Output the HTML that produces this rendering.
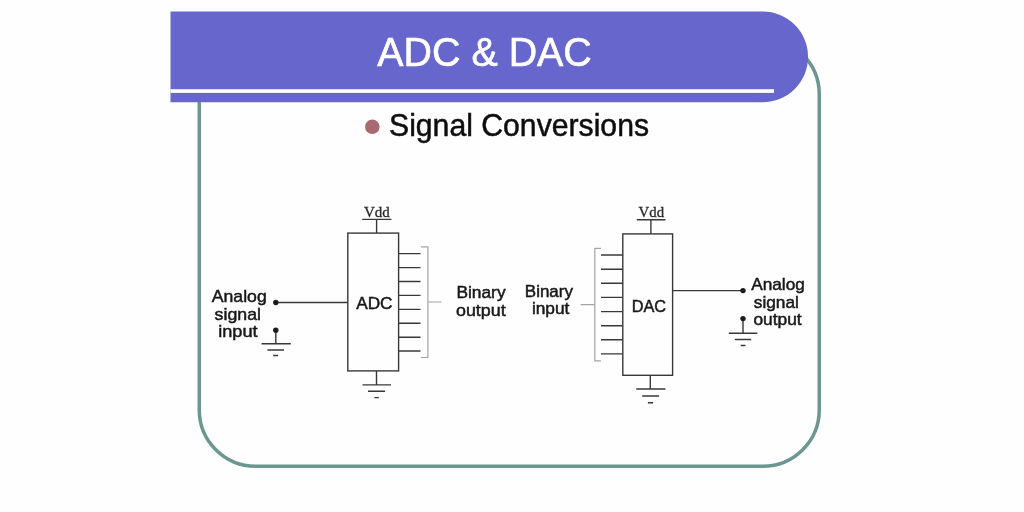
<!DOCTYPE html>
<html>
<head>
<meta charset="utf-8">
<title>ADC &amp; DAC</title>
<style>
html,body{margin:0;padding:0;background:#fefefe;}
body{width:1024px;height:512px;overflow:hidden;position:relative;font-family:"Liberation Sans",sans-serif;}
svg{position:absolute;left:0;top:0;display:block;}
.s{font-family:"Liberation Sans",sans-serif;fill:#161616;stroke:#161616;stroke-width:0.45;}
.v{font-family:"Liberation Serif",serif;fill:#2a2a2a;stroke:#2a2a2a;stroke-width:0.3;}
</style>
</head>
<body>
<svg width="1024" height="512" viewBox="0 0 1024 512">
  <defs>
    <filter id="b" x="-5%" y="-5%" width="110%" height="110%"><feGaussianBlur stdDeviation="0.45"/></filter>
  </defs>
  <rect x="0" y="0" width="1024" height="512" fill="#fefefe"/>
  <g filter="url(#b)">
  <!-- slide frame -->
  <rect x="199.25" y="38" width="620" height="428.2" rx="56.5" ry="56.5" fill="none" stroke="#6c9791" stroke-width="3.5"/>
  <!-- banner -->
  <path d="M170.5 11.5 H762.7 A45.35 45.35 0 0 1 762.7 102.2 H170.5 Z" fill="#6666cc"/>
  <rect x="170.5" y="89.2" width="603.5" height="3.7" fill="#ffffff"/>
  <text class="s" x="377.3" y="66" font-size="40" style="fill:#ffffff;stroke:#ffffff;stroke-width:0.6" textLength="214.5" lengthAdjust="spacingAndGlyphs">ADC &amp; DAC</text>
  <!-- bullet -->
  <circle cx="372.3" cy="126.8" r="7.3" fill="#a66a6f"/>
  <text class="s" x="389" y="136" font-size="32" style="fill:#0c0c0c;stroke:#0c0c0c;stroke-width:0.5" textLength="260" lengthAdjust="spacingAndGlyphs">Signal Conversions</text>

  <!-- ADC -->
  <g stroke="#383838" stroke-width="1.4" fill="none">
    <rect x="347.8" y="233.1" width="50.8" height="137.8"/>
    <path d="M362.2 219.4H391.5 M376.6 219.4V233.1"/>
    <path d="M376.5 370.9V384.9 M362.5 384.9H391 M368 391.2H385.1 M374.4 397.6H378.8"/>
    <path d="M275.8 302.5H347.8"/>
    <path d="M275.8 330.3V343.75 M261.5 343.75H290.8 M267.4 350H284 M273.2 355.5H278.1"/>
    <path d="M398.6 253.6H420.5 M398.6 267.6H420.5 M398.6 281.5H420.5 M398.6 295.4H420.5 M398.6 309.4H420.5 M398.6 323.3H420.5 M398.6 337.2H420.5 M398.6 351H420.5"/>
  </g>
  <circle cx="275.8" cy="302.5" r="2.7" fill="#1c1c1c"/>
  <circle cx="275.8" cy="330.3" r="2.7" fill="#1c1c1c"/>
  <path d="M421 246.8H427.9V357.5H421 M427.9 302H441.5" stroke="#a4a4a4" stroke-width="1.2" fill="none"/>
  <text class="v" x="364" y="216.7" font-size="15" textLength="25.8" lengthAdjust="spacingAndGlyphs">Vdd</text>
  <text class="s" x="356.2" y="309.2" font-size="16" textLength="36.3" lengthAdjust="spacingAndGlyphs">ADC</text>
  <text class="s" x="211.7" y="302" font-size="16.4" textLength="55.1" lengthAdjust="spacingAndGlyphs">Analog</text>
  <text class="s" x="214.6" y="319.5" font-size="16.4" textLength="46.4" lengthAdjust="spacingAndGlyphs">signal</text>
  <text class="s" x="218.2" y="337.1" font-size="16.4" textLength="39.4" lengthAdjust="spacingAndGlyphs">input</text>
  <text class="s" x="456.4" y="298.1" font-size="16" textLength="49.2" lengthAdjust="spacingAndGlyphs">Binary</text>
  <text class="s" x="456" y="315.9" font-size="16" textLength="49.6" lengthAdjust="spacingAndGlyphs">output</text>

  <!-- DAC -->
  <g stroke="#383838" stroke-width="1.4" fill="none">
    <rect x="622.8" y="233.9" width="49.8" height="141.4"/>
    <path d="M636.8 219.8H665.5 M650.9 219.8V233.9"/>
    <path d="M650.3 375.3V389 M636.3 389H665.4 M642.2 396H659.1 M647.9 402.7H653.1"/>
    <path d="M672.6 290.6H743"/>
    <path d="M743 318.6V333.2 M728.75 333.2H757.3 M734.8 339.5H751.2 M740.7 345.5H745.5"/>
    <path d="M601 255H622.8 M601 269.2H622.8 M601 283.3H622.8 M601 297.4H622.8 M601 311.6H622.8 M601 325.7H622.8 M601 339.8H622.8 M601 353.9H622.8"/>
  </g>
  <circle cx="743" cy="290.6" r="2.7" fill="#1c1c1c"/>
  <circle cx="743" cy="318.6" r="2.7" fill="#1c1c1c"/>
  <path d="M601 248.4H594.8V360.9H601 M594.8 304.6H580.7" stroke="#a4a4a4" stroke-width="1.2" fill="none"/>
  <text class="v" x="638.6" y="217" font-size="15" textLength="25.5" lengthAdjust="spacingAndGlyphs">Vdd</text>
  <text class="s" x="631.7" y="311.7" font-size="16" textLength="34.4" lengthAdjust="spacingAndGlyphs">DAC</text>
  <text class="s" x="524.8" y="296.9" font-size="16" textLength="48.2" lengthAdjust="spacingAndGlyphs">Binary</text>
  <text class="s" x="531.9" y="314.4" font-size="16" textLength="37.5" lengthAdjust="spacingAndGlyphs">input</text>
  <text class="s" x="751.2" y="290.3" font-size="16.4" textLength="53.7" lengthAdjust="spacingAndGlyphs">Analog</text>
  <text class="s" x="753.75" y="307.9" font-size="16.4" textLength="45.2" lengthAdjust="spacingAndGlyphs">signal</text>
  <text class="s" x="753.4" y="325.4" font-size="16.4" textLength="48.2" lengthAdjust="spacingAndGlyphs">output</text>
  </g>
</svg>
</body>
</html>
